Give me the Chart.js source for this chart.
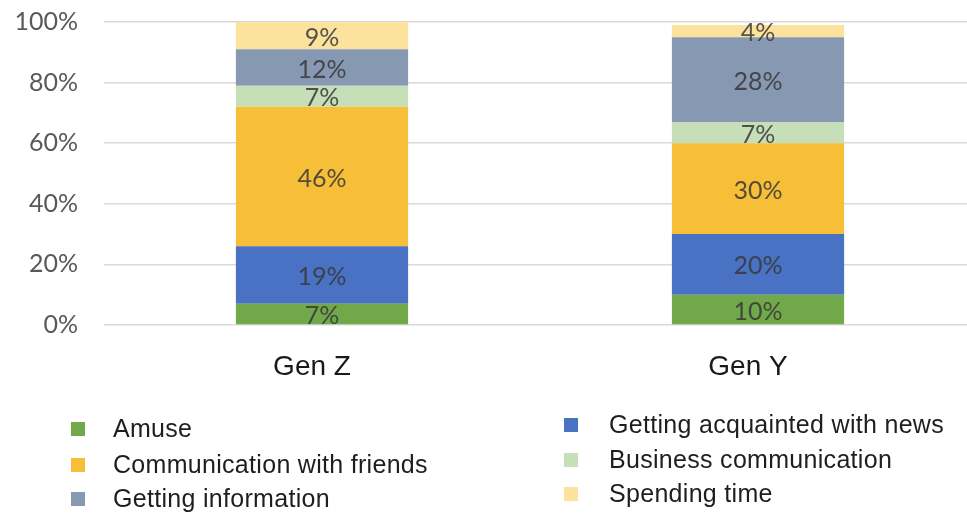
<!DOCTYPE html>
<html>
<head>
<meta charset="utf-8">
<title>Gen Z vs Gen Y</title>
<script src="https://cdn.jsdelivr.net/npm/chart.js@4.4.1/dist/chart.umd.min.js"></script>
<style>
  html, body { margin: 0; padding: 0; background: #fff; overflow: hidden; }
  #wrap { width: 976px; height: 518px; }
</style>
</head>
<body>
<div id="wrap"><canvas id="myChart" width="976" height="518"></canvas></div>
<script>
// shares per generation, bottom to top of the stack
var generations = ['Gen Z', 'Gen Y'];
var amuse = [7, 10];
var news = [19, 20];
var friends = [46, 30];
var business = [7, 7];
var information = [12, 28];
var spendingTime = [9, 4];
var yTicks = [0, 20, 40, 60, 80, 100];

var datasets = [
	{ label: 'Amuse', data: amuse, backgroundColor: '#70A84A' },
	{ label: 'Getting acquainted with news', data: news, backgroundColor: '#4A72C4' },
	{ label: 'Communication with friends', data: friends, backgroundColor: '#F7BE38' },
	{ label: 'Business communication', data: business, backgroundColor: '#C6DFB8' },
	{ label: 'Getting information', data: information, backgroundColor: '#8798B2' },
	{ label: 'Spending time', data: spendingTime, backgroundColor: '#FBE39D' }
];

// value text in the middle of every segment
var segmentLabels = {
	id: 'segmentLabels',
	afterDatasetsDraw: function(chart) {
		var ctx = chart.ctx;
		ctx.save();
		ctx.font = '25px Lato';
		ctx.fillStyle = 'rgba(55,55,55,0.85)';
		ctx.textAlign = 'center';
		ctx.textBaseline = 'middle';
		chart.data.datasets.forEach(function(ds, i) {
			chart.getDatasetMeta(i).data.forEach(function(bar, j) {
				var y = (bar.y + bar.base) / 2 + 2;
				ctx.fillText(ds.data[j] + '%', bar.x, y);
			});
		});
		ctx.restore();
	}
};

// two-column legend under the axis
var legendBlock = {
	id: 'legendBlock',
	afterDraw: function(chart) {
		var ctx = chart.ctx;
		var cols = [
			{ box: 71, text: 113, rows: [429, 465, 499], items: [0, 2, 4] },
			{ box: 564, text: 609, rows: [425, 460, 494], items: [1, 3, 5] }
		];
		ctx.save();
		ctx.font = '25px "Liberation Sans"';
		ctx.letterSpacing = '0.3px';
		ctx.textBaseline = 'middle';
		ctx.textAlign = 'left';
		cols.forEach(function(col) {
			col.items.forEach(function(idx, r) {
				var ds = chart.data.datasets[idx];
				var y = col.rows[r];
				ctx.fillStyle = ds.backgroundColor;
				ctx.fillRect(col.box, y - 7, 14, 14);
				ctx.fillStyle = '#1e1e1e';
				ctx.fillText(ds.label, col.text, y + 1);
			});
		});
		ctx.restore();
	}
};

var ctx = document.getElementById('myChart').getContext('2d');
new Chart(ctx, {
	type: 'bar',
	data: { labels: generations, datasets: datasets },
	options: {
		responsive: false,
		animation: false,
		layout: { padding: { top: 22, right: 0, left: 0, bottom: 0 } },
		datasets: { bar: { categoryPercentage: 1, barPercentage: 0.395 } },
		plugins: {
			legend: { display: false },
			tooltip: { enabled: false }
		},
		scales: {
			x: {
				stacked: true,
				grid: { display: false, drawTicks: false },
				border: { display: false },
				ticks: {
					color: '#1a1a1a',
					font: { family: 'Liberation Sans', size: 28 },
					padding: 25,
					labelOffset: -10
				},
				afterFit: function(scale) { scale.height = 193; }
			},
			y: {
				stacked: true,
				min: 0,
				max: 100,
				afterBuildTicks: function(scale) {
					scale.ticks = yTicks.map(function(v) { return { value: v }; });
				},
				grid: { color: '#DADADA', lineWidth: 1.5, drawTicks: false },
				border: { display: false },
				ticks: {
					color: '#595959',
					font: { family: 'Lato', size: 25 },
					padding: 26,
					callback: function(v) { return v + '%'; }
				},
				afterFit: function(scale) {
					scale.width = 104;
					// tick padding is horizontal only, keep it out of the vertical overhang
					scale.paddingTop = 0;
					scale.paddingBottom = 0;
				}
			}
		}
	},
	plugins: [segmentLabels, legendBlock]
});
</script>
</body>
</html>
